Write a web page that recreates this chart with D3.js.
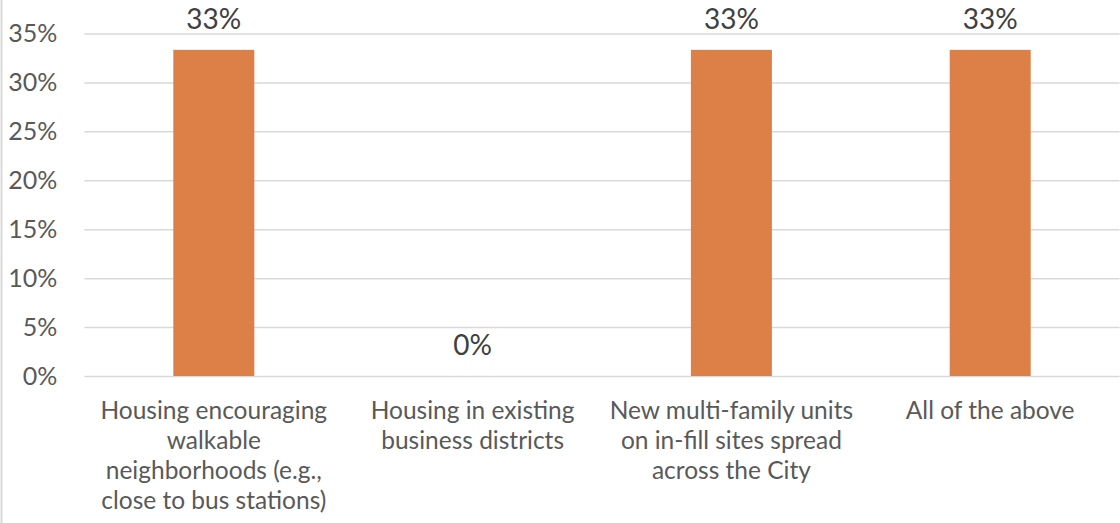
<!DOCTYPE html>
<html><head><meta charset="utf-8">
<script src="https://cdn.jsdelivr.net/npm/d3@7"></script>
<style>
html,body{margin:0;padding:0;background:#fff;}
svg{display:block;}
text{font-family:Lato,"Liberation Sans",sans-serif;}
</style></head>
<body>
<svg id="chart" width="1120" height="523"></svg>
<script>
const categories = [
  ["Housing encouraging", "walkable", "neighborhoods (e.g.,", "close to bus stations)"],
  ["Housing in existing", "business districts"],
  ["New multi-family units", "on in-fill sites spread", "across the City"],
  ["All of the above"]
];
const values = [0.3333, 0, 0.3333, 0.3333];
const valueLabels = ["33%", "0%", "33%", "33%"];
const tickValues = [0, 0.05, 0.10, 0.15, 0.20, 0.25, 0.30, 0.35];
const tickLabels = ["0%", "5%", "10%", "15%", "20%", "25%", "30%", "35%"];

const W = 1120, H = 523;
const m = {left: 84.4, right: 0.4, top: 33.5, bottom: 147};
const svg = d3.select("#chart");

svg.append("line").attr("x1", 1.5).attr("x2", 1.5).attr("y1", 0).attr("y2", H)
  .attr("stroke", "#d9d9d9").attr("stroke-width", 2);

const x = d3.scaleBand().domain(d3.range(categories.length))
  .range([m.left, W - m.right]).paddingInner(0.687).paddingOuter(0.3435);
const y = d3.scaleLinear().domain([0, 0.35]).range([H - m.bottom, m.top]);

const yAxis = d3.axisLeft(y).tickValues(tickValues)
  .tickFormat((d, i) => tickLabels[i]).tickSize(-(W - m.right - m.left)).tickPadding(27);
const gy = svg.append("g").attr("transform", `translate(${m.left},0)`).call(yAxis);
gy.select(".domain").remove();
gy.selectAll(".tick line").attr("stroke", "#d9d9d9").attr("stroke-width", 1.5);
gy.selectAll(".tick text").attr("fill", "#595959").attr("font-size", 25)
  .style("font-family", "Lato, 'Liberation Sans', sans-serif");

svg.append("g").selectAll("rect").data(values).join("rect")
  .attr("x", (d, i) => x(i)).attr("width", x.bandwidth())
  .attr("y", d => y(d)).attr("height", d => y(0) - y(d))
  .attr("fill", "#dd8047");

svg.append("g").selectAll("text").data(values).join("text")
  .attr("x", (d, i) => x(i) + x.bandwidth() / 2)
  .attr("y", d => y(d) - 21)
  .attr("text-anchor", "middle").attr("fill", "#404040").attr("font-size", 28)
  .text((d, i) => valueLabels[i]);

const cat = svg.append("g").selectAll("text").data(categories).join("text")
  .attr("text-anchor", "middle").attr("fill", "#595959").attr("font-size", 24.5)
  .attr("x", (d, i) => x(i) + x.bandwidth() / 2)
  .attr("y", y(0) + 43);
cat.selectAll("tspan").data(d => d).join("tspan")
  .attr("x", function() { return this.parentNode.getAttribute("x"); })
  .attr("dy", (d, j) => j === 0 ? 0 : 30)
  .text(d => d);
</script>
</body></html>
